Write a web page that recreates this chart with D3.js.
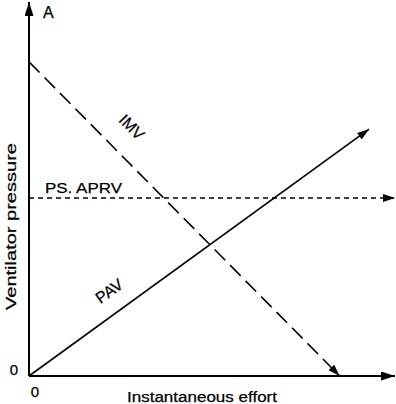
<!DOCTYPE html>
<html><head><meta charset="utf-8">
<script src="https://cdn.jsdelivr.net/npm/d3@7"></script>
<style>body{margin:0;background:#fff}svg{display:block}text{font-family:"Liberation Sans",Arial,sans-serif;fill:#000;stroke:#000;stroke-width:0.25px}</style>
</head><body>
<svg id="c" width="396" height="404"></svg>
<script>
// data (arbitrary units, x and y domain 0..100)
const seriesNames = ["PAV", "IMV", "PS. APRV"];
const pav = [[0, 0], [92.9, 66.0]];
const imv = [[0, 84.0], [84.9, 0]];
const psaprv = [[0, 47.6], [100, 47.6]];
const xTickLabels = ["0"];
const yTickLabels = ["0"];
const xTitle = "Instantaneous effort";
const yTitle = "Ventilator pressure";
const panelLabel = "A";

const svg = d3.select("#c");
const x = d3.scaleLinear().domain([0, 100]).range([29, 395]);
const y = d3.scaleLinear().domain([0, 100]).range([376, 2]);

const defs = svg.append("defs");
defs.append("marker").attr("id", "arr").attr("viewBox", "0 0 12 8")
  .attr("refX", 12).attr("refY", 4).attr("markerWidth", 12).attr("markerHeight", 8)
  .attr("markerUnits", "userSpaceOnUse").attr("orient", "auto")
  .append("path").attr("d", "M0,0L12,4L0,8Z").attr("fill", "#000");
defs.append("marker").attr("id", "arrAx").attr("viewBox", "0 0 14 9")
  .attr("refX", 14).attr("refY", 4.5).attr("markerWidth", 14).attr("markerHeight", 9)
  .attr("markerUnits", "userSpaceOnUse").attr("orient", "auto")
  .append("path").attr("d", "M0,0L14,4.5L0,9Z").attr("fill", "#000");

const line = d3.line().x(d => x(d[0])).y(d => y(d[1]));

// axes
svg.append("path").attr("d", line([[0, 0], [0, 100]])).attr("stroke", "#000")
  .attr("stroke-width", 2).attr("fill", "none").attr("marker-end", "url(#arrAx)");
svg.append("path").attr("d", line([[0, 0], [100, 0]])).attr("stroke", "#000")
  .attr("stroke-width", 2).attr("fill", "none").attr("marker-end", "url(#arrAx)");

// series
svg.append("path").attr("d", line(pav)).attr("stroke", "#000").attr("stroke-width", 1.6)
  .attr("fill", "none").attr("marker-end", "url(#arr)");
svg.append("path").attr("d", line(imv)).attr("stroke", "#000").attr("stroke-width", 1.6)
  .attr("fill", "none").attr("stroke-dasharray", "15,7").attr("marker-end", "url(#arr)");
svg.append("path").attr("d", line(psaprv)).attr("stroke", "#000").attr("stroke-width", 1.6)
  .attr("fill", "none").attr("stroke-dasharray", "5,4").attr("marker-end", "url(#arr)");

// series labels
const ang = (p) => Math.atan2(y(p[1][1]) - y(p[0][1]), x(p[1][0]) - x(p[0][0])) * 180 / Math.PI;
svg.append("text").attr("transform", `translate(${x(27)},${y(65.5)}) rotate(${ang(imv)})`)
  .attr("text-anchor", "middle").attr("font-size", 16).text(seriesNames[1]);
svg.append("text").attr("transform", `translate(${x(22.8)},${y(21.5)}) rotate(${ang(pav)})`)
  .attr("text-anchor", "middle").attr("font-size", 16).text(seriesNames[0]);
svg.append("text").attr("x", 45).attr("y", 193)
  .attr("font-size", 15.5).attr("textLength", 77).attr("lengthAdjust", "spacingAndGlyphs").text(seriesNames[2]);

// ticks
svg.append("text").attr("x", 14).attr("y", 375).attr("text-anchor", "middle")
  .attr("font-size", 15).text(yTickLabels[0]);
svg.append("text").attr("x", 35).attr("y", 397).attr("text-anchor", "middle")
  .attr("font-size", 15).text(xTickLabels[0]);

// titles
svg.append("text").attr("x", 127).attr("y", 402)
  .attr("font-size", 15.5).attr("textLength", 150).attr("lengthAdjust", "spacingAndGlyphs").text(xTitle);
svg.append("text").attr("transform", "translate(16,310) rotate(-90)")
  .attr("font-size", 15.5).attr("textLength", 167).attr("lengthAdjust", "spacingAndGlyphs").text(yTitle);
svg.append("text").attr("x", 43).attr("y", 18).attr("font-size", 16).text(panelLabel);
</script>
</body></html>
